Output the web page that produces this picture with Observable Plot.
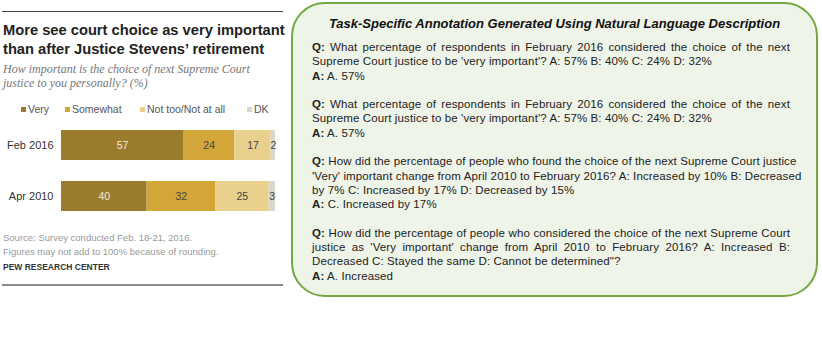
<!DOCTYPE html>
<html><head><meta charset="utf-8">
<script src="https://cdn.jsdelivr.net/npm/d3@7"></script>
<script src="https://cdn.jsdelivr.net/npm/@observablehq/plot@0.6"></script>
<style>
html,body{margin:0;padding:0;background:#fff;}
body{width:822px;height:363px;position:relative;overflow:hidden;font-family:"Liberation Sans",Arial,sans-serif;}
.abs{position:absolute;}
#rule-top{left:2px;top:11px;width:281px;height:1px;background:#444;}
#rule-bot{left:2px;top:284px;width:281px;height:2px;background:#8a8a8a;}
#title{left:3px;top:21px;width:290px;font-weight:bold;font-size:14.7px;line-height:19px;color:#222;}
#subtitle{left:3px;top:62px;width:290px;font-family:"Liberation Serif",serif;font-style:italic;font-size:12px;line-height:14px;color:#777;}
#legend{left:0;top:103px;width:290px;height:14px;font-size:10.5px;color:#555;}
#legend span{position:absolute;white-space:nowrap;}
#legend i{display:inline-block;width:5px;height:5px;margin-right:2px;vertical-align:1px;}
#chart{left:0;top:120px;}
#source{left:3px;top:231px;font-size:9.5px;line-height:14px;color:#999;}
#pew{left:3px;top:262px;font-size:8.5px;font-weight:bold;color:#333;}
#box{left:291px;top:2px;width:523px;height:291px;border:2px solid #72a83f;border-radius:34px;background:#eff4e9;}
#boxtitle{left:291px;top:16px;width:527px;text-align:center;font-weight:bold;font-style:italic;font-size:13px;color:#111;}
#qa{left:312px;top:40px;width:478px;font-size:11.5px;letter-spacing:0.12px;line-height:14.3px;color:#222;}
#qa .p{margin:0 0 14.3px 0;}
#qa .p div{white-space:nowrap;}
#qa .p div.j{text-align:justify;text-align-last:justify;}
</style>
</head><body>
<div class="abs" id="rule-top"></div>
<div class="abs" id="title">More see court choice as very important<br>than after Justice Stevens’ retirement</div>
<div class="abs" id="subtitle">How important is the choice of next Supreme Court<br>justice to you personally? (%)</div>
<div class="abs" id="legend"></div>
<div class="abs" id="chart"></div>
<div class="abs" id="source">Source: Survey conducted Feb. 18-21, 2016.<br>Figures may not add to 100% because of rounding.</div>
<div class="abs" id="pew">PEW RESEARCH CENTER</div>
<div class="abs" id="rule-bot"></div>
<div class="abs" id="box"></div>
<div class="abs" id="boxtitle">Task-Specific Annotation Generated Using Natural Language Description</div>
<div class="abs" id="qa">
<div class="p">
<div class="j"><b>Q:</b> What percentage of respondents in February 2016 considered the choice of the next</div>
<div>Supreme Court justice to be 'very important'? A: 57% B: 40% C: 24% D: 32%</div>
<div><b>A:</b> A. 57%</div>
</div>
<div class="p">
<div class="j"><b>Q:</b> What percentage of respondents in February 2016 considered the choice of the next</div>
<div>Supreme Court justice to be 'very important'? A: 57% B: 40% C: 24% D: 32%</div>
<div><b>A:</b> A. 57%</div>
</div>
<div class="p">
<div class="j"><b>Q:</b> How did the percentage of people who found the choice of the next Supreme Court justice</div>
<div class="j">'Very' important change from April 2010 to February 2016? A: Increased by 10% B: Decreased</div>
<div>by 7% C: Increased by 17% D: Decreased by 15%</div>
<div><b>A:</b> C. Increased by 17%</div>
</div>
<div class="p">
<div class="j"><b>Q:</b> How did the percentage of people who considered the choice of the next Supreme Court</div>
<div class="j">justice as 'Very important' change from April 2010 to February 2016? A: Increased B:</div>
<div>Decreased C: Stayed the same D: Cannot be determined"?</div>
<div><b>A:</b> A. Increased</div>
</div>
</div>
<script>
const categories = ["Feb 2016", "Apr 2010"];
const responses = ["Very", "Somewhat", "Not too/Not at all", "DK"];
const feb2016 = [57, 24, 17, 2];
const apr2010 = [40, 32, 25, 3];
const colors = ["#9b7c2c", "#d3a63a", "#e9d08c", "#d9d6cc"];
const legendX = [21, 65, 140, 247];

const series = [feb2016, apr2010];
const data = [];
categories.forEach((c, i) => responses.forEach((r, j) => data.push({period: c, response: r, value: series[i][j], idx: j})));

const leg = document.getElementById("legend");
responses.forEach((r, j) => {
  const s = document.createElement("span");
  s.style.left = legendX[j] + "px";
  s.innerHTML = `<i style="background:${colors[j]}"></i>${r}`;
  leg.appendChild(s);
});

const chart = Plot.plot({
  width: 290,
  height: 101,
  marginLeft: 61,
  marginRight: 15,
  marginTop: 5,
  marginBottom: 5,
  x: {domain: [0, 100], axis: null},
  y: {domain: categories, paddingInner: 0.42, paddingOuter: 0.1, label: null, tickSize: 0, tickPadding: 8},
  color: {domain: responses, range: colors},
  style: {fontFamily: "Liberation Sans, Arial, sans-serif", fontSize: "11px", color: "#333"},
  marks: [
    Plot.barX(data, Plot.stackX({x: "value", y: "period", fill: "response", order: null})),
    Plot.text(data, Plot.stackX({x: "value", y: "period", order: null, text: d => String(d.value),
      fill: d => d.idx === 0 ? "#f3ead0" : "#444", fontSize: 10.5}))
  ]
});
document.getElementById("chart").appendChild(chart);
</script>
</body></html>
